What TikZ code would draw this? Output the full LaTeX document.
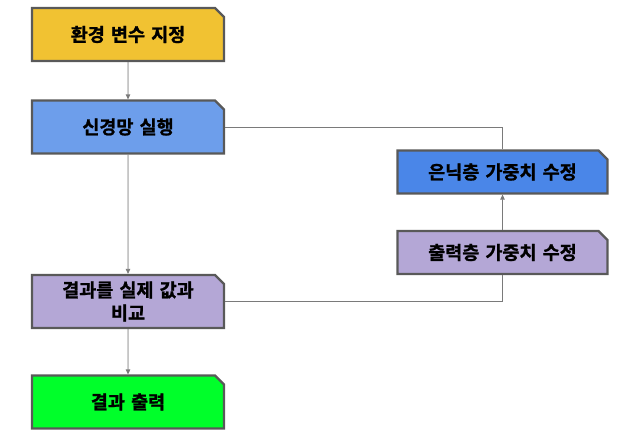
\documentclass[tikz,border=0pt]{standalone}
\usepackage{fontspec}
\newfontfamily\kr{Noto Sans CJK KR Bold}[FakeBold=1.2]
\usetikzlibrary{shapes.misc,arrows.meta}
\definecolor{cyellow}{HTML}{F1C232}
\definecolor{cblue}{HTML}{6D9EEB}
\definecolor{cbblue}{HTML}{4A86E8}
\definecolor{cpurple}{HTML}{B4A7D6}
\definecolor{cgreen}{HTML}{00FF2A}
\definecolor{cborder}{HTML}{595959}
\definecolor{cline}{HTML}{7A7A7A}
\tikzset{
  x=1pt,y=-1pt,
  box/.style={chamfered rectangle, chamfered rectangle corners=north east,
    chamfered rectangle xsep=4.5pt, chamfered rectangle ysep=4.5pt,
    draw=cborder, line width=2.2pt, inner sep=0pt, align=center,
    font=\kr\fontsize{18.5}{23}\selectfont, text=black},
  lbox/.style={box, minimum width=192pt, minimum height=53pt, text width=178pt},
  rbox/.style={box, minimum width=210pt, minimum height=43pt, text width=198pt},
  conn/.style={draw=cline, line width=0.8pt},
  arr/.style={conn, -{Triangle[length=5pt,width=4.5pt]}, fill=cline}
}
\begin{document}
\begin{tikzpicture}
\useasboundingbox (0,0) rectangle (624,439);
\node[lbox, fill=cyellow] (b1) at (128,34.5) {환경 변수 지정};
\node[lbox, fill=cblue] (b2) at (128,127) {신경망 실행};
\node[lbox, fill=cpurple] (b4) at (128,301.5) {결과를 실제 값과\\비교};
\node[lbox, fill=cgreen] (b5) at (128,402) {결과 출력};
\node[rbox, fill=cbblue] (r1) at (502.5,172) {은닉층 가중치 수정};
\node[rbox, fill=cpurple] (r2) at (502.5,252.5) {출력층 가중치 수정};
\draw[arr] (b1) -- (b2);
\draw[arr] (b2) -- (b4);
\draw[arr] (b4) -- (b5);
\draw[arr] (r2) -- (r1);
\draw[conn] (b2.east) -| (r1.north);
\draw[conn] (b4.east) -| (r2.south);
\end{tikzpicture}
\end{document}
